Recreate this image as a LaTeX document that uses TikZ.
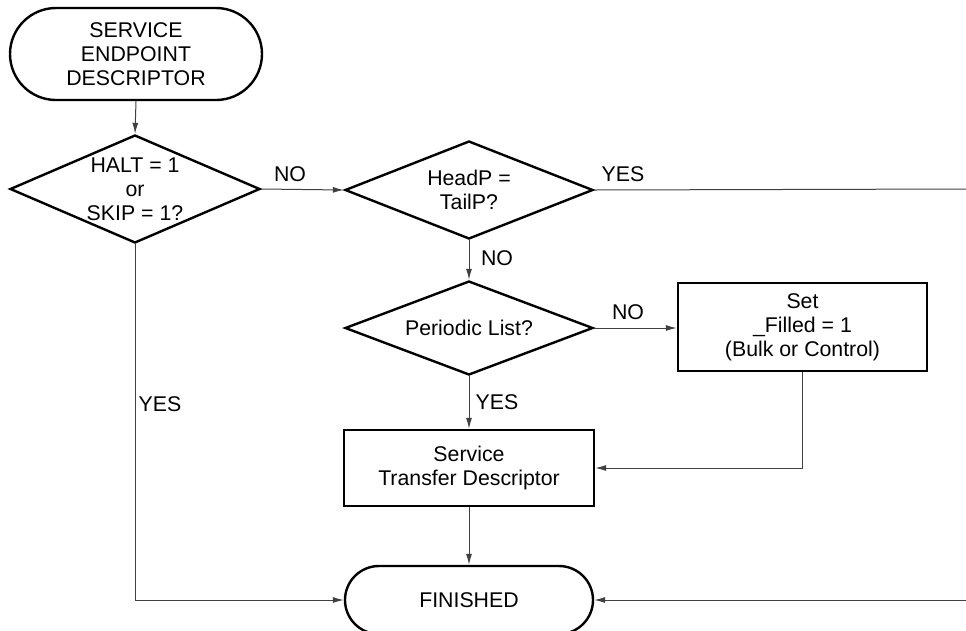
\documentclass[tikz,border=0pt]{standalone}
\usepackage{fontspec}
\setmainfont{Liberation Sans}
\usetikzlibrary{shapes.geometric,shapes.misc,arrows.meta}
\begin{document}
\begin{tikzpicture}[x=1pt,y=-1pt,
  font=\fontsize{21.3}{24}\selectfont,
  shapeline/.style={draw=black,line width=2.4pt},
  terminal/.style={shapeline,rounded rectangle,inner sep=0pt,align=center},
  decision/.style={shapeline,diamond,inner sep=0pt},
  process/.style={shapeline,rectangle,inner sep=0pt,align=center},
  txt/.style={align=center,inner sep=0pt},
  conn/.style={draw=black!75,line width=1pt},
  arr/.style={conn,-{Latex[length=11pt,width=6pt]}},
  lbl/.style={inner sep=0pt}]
\useasboundingbox (0,0) rectangle (966,630);

% shapes
\node[terminal,minimum width=252pt,minimum height=92pt] (start) at (136,54)
  {SERVICE\\ENDPOINT\\DESCRIPTOR};
\node[decision,minimum width=250pt,minimum height=108pt] (d1) at (135,189) {};
\node[txt] at (d1) {HALT = 1\\or\\SKIP = 1?};
\node[decision,minimum width=248pt,minimum height=98pt] (d2) at (469,190) {};
\node[txt] at (d2) {HeadP =\\TailP?};
\node[decision,minimum width=248pt,minimum height=94pt] (d3) at (469,328) {};
\node[txt] at (d3) {Periodic List?};
\node[process,minimum width=249pt,minimum height=88pt] (setf) at (802.5,327)
  {Set\\\_Filled = 1\\(Bulk or Control)};
\node[process,minimum width=250pt,minimum height=76pt] (svc) at (469,468)
  {Service\\Transfer Descriptor};
\node[terminal,minimum width=248pt,minimum height=68pt] (fin) at (469,600) {FINISHED};

\coordinate (rtop) at (966,189);
\coordinate (rbot) at (966,600);

% connectors
\draw[arr] (start.south) -- (d1.north);
\draw[arr] (d1.east) -- (d2.west);
\draw[conn] (d2.east) -- (rtop);
\draw[arr] (d2.south) -- (d3.north);
\draw[arr] (d3.east) -- (setf.west |- d3.east);
\draw[arr] (d3.south) -- (svc.north);
\draw[arr] (setf.south) |- (svc.east);
\draw[arr] (svc.south) -- (fin.north);
\draw[arr] (d1.south) |- (fin.west);
\draw[arr] (rbot) -- (fin.east);

% branch labels
\node[lbl] at (290,174) {NO};
\node[lbl] at (623,174) {YES};
\node[lbl] at (497,258) {NO};
\node[lbl] at (628,312) {NO};
\node[lbl] at (497,402) {YES};
\node[lbl] at (160,404) {YES};
\end{tikzpicture}
\end{document}
